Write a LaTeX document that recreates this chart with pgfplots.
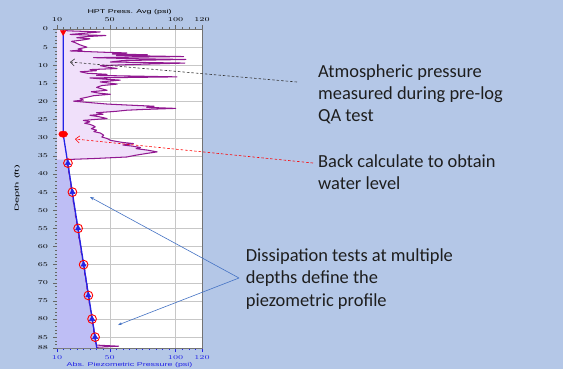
\documentclass[border=0pt]{standalone}
\usepackage{pgfplots}
\pgfplotsset{compat=1.18}
\usepackage{pgfplotstable}
\usepackage{fontspec}
\setmainfont{Carlito}
\newfontfamily\chartfont{Liberation Sans}
\usetikzlibrary{arrows.meta}

\definecolor{slidebg}{RGB}{180,199,231}
\definecolor{hptline}{RGB}{145,25,145}
\definecolor{hptfill}{RGB}{240,224,250}
\definecolor{pzfill}{RGB}{190,190,245}
\definecolor{pzline}{RGB}{35,35,230}
\definecolor{callout}{RGB}{68,114,196}
\definecolor{slidetext}{RGB}{30,30,30}

% HPT pressure log, upper part (above the saturated zone)
\pgfplotstableread{
p d
14.7 0.0
18 0.5
42.8 0.8
30 1.2
20 1.5
47 1.8
32 2.1
25 2.4
35 2.7
28 3.1
21 3.4
24 3.8
27 4.3
30 4.7
32.7 5.0
26 5.5
29 5.8
20 6.05
45 6.4
63 6.6
52 6.9
78.5 7.1
55 7.3
106 7.6
37.7 7.9
70 8.2
107.8 8.4
60 8.7
50.5 9.1
107 9.4
75 9.7
42.8 10.1
48 10.5
55.6 10.9
35 11.2
40 11.5
27.6 11.8
33 12.2
48 12.5
40 12.8
101 13.2
35 13.5
45 13.8
58 14.1
42.8 14.6
55.6 15.2
44 15.6
40 16.1
44 16.5
48 16.9
36 17.3
42 17.7
50.5 18.0
37.7 18.4
33 18.8
27.6 19.2
30 19.6
22.5 19.9
35 20.3
48 20.7
65 21.0
83.6 21.3
78 21.6
100 21.9
75 22.2
63 22.4
55 22.7
40 23.1
45 23.5
35 23.8
42 24.2
48 24.7
30 25.2
35 25.6
31 26.0
35 26.3
37.7 26.7
39 27.0
36 27.5
40 27.9
38 28.3
43 28.7
45.4 29.3
44 29.8
48 30.2
50.5 30.7
55 31.0
60 31.3
68 31.6
60 32.0
67 32.3
73.4 32.7
70 33.0
78.5 33.4
86 33.9
78.5 34.3
70 34.8
63 35.3
40 35.7
17.7 36.0
}\hptupper

% HPT pressure log, lower part (tracks the piezometric line)
\pgfplotstableread{
p d
17.7 36.0
18.3 36.5
17.8 37.5
19.0 38.5
18.9 39.5
19.6 40.5
19.9 41.5
20.6 42.5
20.5 43.5
21.4 44.5
21.6 45.5
22.4 46.5
22.2 47.5
23.0 48.5
23.2 49.5
24.0 50.5
23.9 51.5
24.8 52.5
24.9 53.5
25.7 54.5
26.0 55.5
26.6 56.5
26.5 57.5
27.4 58.5
27.6 59.5
28.4 60.5
28.2 61.5
29.2 62.5
29.3 63.5
30.1 64.5
30.2 65.5
31.1 66.5
30.9 67.5
31.9 68.5
31.9 69.5
32.8 70.5
32.6 71.5
33.6 72.5
33.8 73.5
34.5 74.5
34.4 75.5
35.3 76.5
35.4 77.5
36.2 78.5
36.1 79.5
37.0 80.5
37.2 81.5
37.9 82.5
37.8 83.5
38.7 84.5
38.9 85.5
39.4 86.5
39.9 87.2
56.8 87.5
40.5 87.8
40.2 88.0
}\hptlower

% Dissipation test results
\pgfplotstableread{
p d
18.3 37
21.7 45
26.0 55
30.2 65
33.8 73.5
36.6 80
38.9 85
}\dissip

\begin{document}
\begin{tikzpicture}[x=1bp,y=1bp]
\path[use as bounding box, fill=slidebg] (0,0) rectangle (563,369);

\pgfplotsset{
  hptaxis/.style={
    at={(57bp,21bp)}, anchor=south west,
    scale only axis, width=145bp, height=319bp,
    xmin=10, xmax=120, ymin=0, ymax=88, y dir=reverse,
    xtick={10,50,100,120}, minor xtick={10,15,...,120},
    tick align=outside, major tick length=4bp, minor tick length=2bp,
    tick label style={font=\chartfont\fontsize{5.6}{6}\selectfont, xscale=1.4},
    label style={font=\chartfont\fontsize{5.6}{6}\selectfont, xscale=1.6},
    axis line style={black!55},
    tick style={black!60, line width=0.4pt},
  }
}

% Main axis: piezometric pressure (bottom scale) and depth
\begin{axis}[hptaxis,
  axis background/.style={fill=white},
  clip mode=individual,
  xtick pos=lower, ytick pos=left,
  ytick={0,5,...,85,88}, minor ytick={0,1,...,88},
  xmajorgrids, ymajorgrids,
  major grid style={black!22, line width=0.4pt},
  x tick label style={text=pzline},
  x tick style={pzline},
  xlabel={Abs. Piezometric Pressure (psi)},
  xlabel style={text=pzline, at={(axis description cs:0.5,0)}, anchor=center, yshift=-17bp},
  ylabel={Depth (ft)},
  ylabel style={at={(axis description cs:-0.275,0.5)}, anchor=center, xscale=1.25},
]
% piezometric area
\addplot[fill=pzfill, draw=none] coordinates {(10,0) (14.7,0) (14.7,29) (40.2,88) (10,88)} -- cycle;
% HPT pressure fill above the saturated zone
\addplot[fill=hptfill, draw=none] table[x=p, y=d] {\hptupper} -- (10,36.0) -- (10,0) -- cycle;
% HPT pressure log
\addplot[hptline, line width=1.05pt, line join=round] table[x=p, y=d] {\hptupper};
\addplot[hptline, line width=1.05pt, line join=round] table[x=p, y=d] {\hptlower};
% piezometric profile
\addplot[pzline, line width=1.3pt] coordinates {(14.7,0) (14.7,29) (40.2,88)};
% dissipation tests
\addplot[only marks, mark=triangle*, mark size=3.1pt, mark options={draw=pzline, fill=pzline}] table[x=p, y=d] {\dissip};
\addplot[only marks, mark=o, mark size=4.4pt, mark options={draw=red, line width=0.9pt}] table[x=p, y=d] {\dissip};
% atmospheric pressure and water level
\addplot[only marks, mark=triangle*, mark size=3.2pt, mark options={draw=red, fill=red, rotate=180}] coordinates {(14.7,0.9)};
\addplot[only marks, mark=*, mark size=3.2pt, mark options={draw=red, fill=red, xscale=1.4}] coordinates {(14.7,29)};
\end{axis}

% Top scale: HPT pressure
\begin{axis}[hptaxis,
  axis x line*=top, axis y line=none,
  xtick pos=upper, xticklabel pos=upper,
  xlabel={HPT Press. Avg (psi)},
  xlabel style={at={(axis description cs:0.5,1)}, anchor=center, yshift=17bp},
]
\end{axis}

% Call-outs
\draw[black!80, dash pattern=on 2.5bp off 2bp, line width=0.6pt, -{Straight Barb[length=4bp,width=7bp]}] (297,287) -- (70,307);
\draw[red, dash pattern=on 2.5bp off 2bp, line width=0.6pt, -{Straight Barb[length=4bp,width=7bp]}] (313,206) -- (75,230);
\draw[callout, line width=0.6pt, -{Stealth[length=4bp,width=3bp]}] (239,91) -- (90,172);
\draw[callout, line width=0.6pt, -{Stealth[length=4bp,width=3bp]}] (239,91) -- (118,44);

\begin{scope}[every node/.style={anchor=base west, inner sep=0pt, text=slidetext, font=\fontsize{18.5}{22}\selectfont}]
\node at (318,291.7) {Atmospheric pressure};
\node at (318,269.5) {measured during pre-log};
\node at (318,247.3) {QA test};
\node at (318,201.7) {Back calculate to obtain};
\node at (318,179.5) {water level};
\node at (245.7,107.3) {Dissipation tests at multiple};
\node at (245.7,85.3) {depths define the};
\node at (245.7,63) {piezometric profile};
\end{scope}
\end{tikzpicture}
\end{document}
